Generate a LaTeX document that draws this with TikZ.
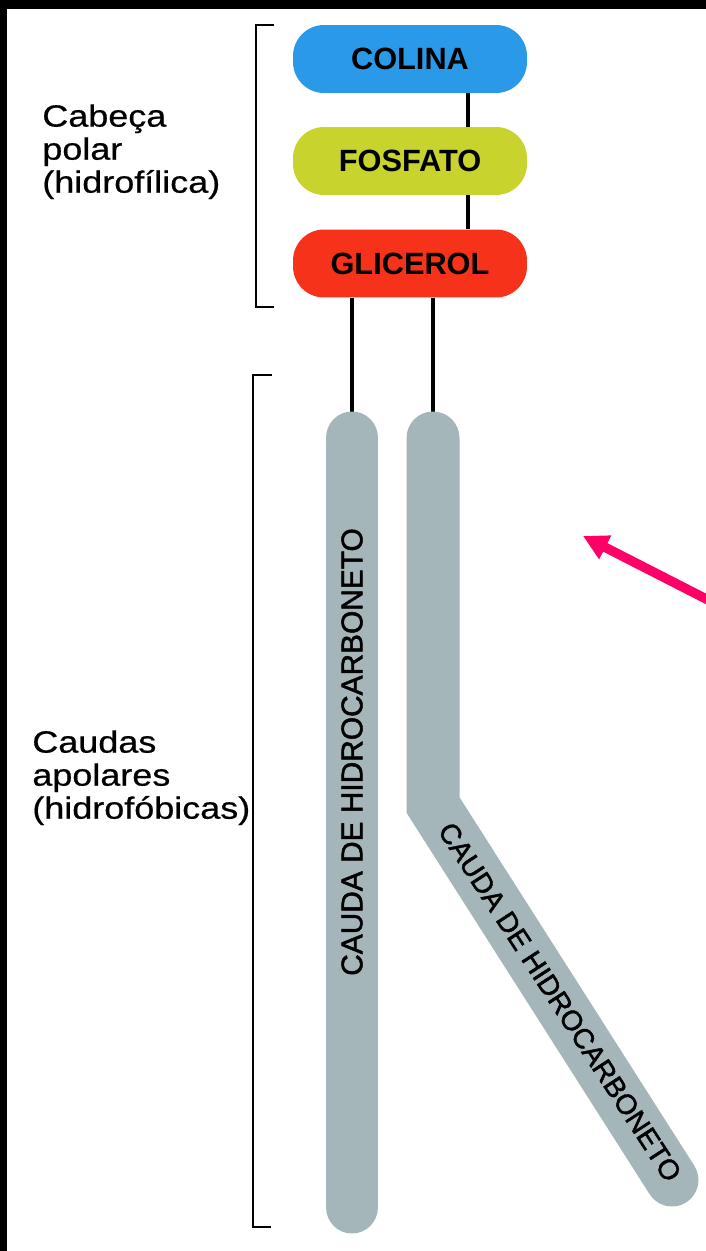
\documentclass[tikz,border=0pt]{standalone}
\usepackage{fontspec}
\setmainfont{Liberation Sans}
\newfontfamily\widesans[FakeStretch=1.17,FakeBold=0.6]{Liberation Sans}
\newfontfamily\tailsans[FakeBold=1.6]{Liberation Sans}
\usetikzlibrary{arrows.meta}
\definecolor{colblue}{RGB}{42,154,232}
\definecolor{fosyellow}{RGB}{200,211,46}
\definecolor{glired}{RGB}{246,50,26}
\definecolor{tailgray}{RGB}{164,182,186}
\definecolor{arrowpink}{RGB}{255,0,102}
\begin{document}
\begin{tikzpicture}[x=0.02cm,y=-0.02cm,
  head/.style={rounded corners=0.62cm,minimum width=4.68cm,minimum height=1.36cm,
    inner sep=0pt,font=\fontsize{17.5}{20}\selectfont\bfseries},
  link/.style={line width=2.4pt},
  tail/.style={line width=1.06cm,draw=tailgray,line cap=round},
  tailtext/.style={inner sep=0pt,font=\tailsans\fontsize{#1}{20}\selectfont},
  brace/.style={line width=1.5pt},
  side/.style={anchor=north west,align=left,inner sep=0pt,
    font=\widesans\fontsize{17.5}{18.8}\selectfont}]
  \fill[white] (0,0) rectangle (706,1251);
  \fill[black] (0,0) rectangle (706,9);
  \fill[black] (0,0) rectangle (7,1251);
  \useasboundingbox (0,0) rectangle (706,1251);
  % polar head
  \node[head,fill=colblue] (colina) at (410,59) {COLINA};
  \node[head,fill=fosyellow] (fosfato) at (410,161) {FOSFATO};
  \node[head,fill=glired] (glicerol) at (410,263.5) {GLICEROL};
  \draw[link] ([xshift=1.16cm]colina.south) -- ([xshift=1.16cm]fosfato.north);
  \draw[link] ([xshift=1.16cm]fosfato.south) -- ([xshift=1.16cm]glicerol.north);
  % tails
  \coordinate (t1tip) at (352,412);
  \coordinate (t1top) at (352,438);
  \coordinate (t1end) at (352,1207);
  \coordinate (t2tip) at (433,412);
  \coordinate (t2top) at (433,438);
  \coordinate (t2bend) at (433,805);
  \coordinate (t2end) at (672,1180);
  \draw[link] (glicerol.south -| t1tip) -- (t1tip);
  \draw[link] (glicerol.south -| t2tip) -- (t2tip);
  \draw[tail] (t1top) -- (t1end);
  \draw[tail] (t2top) -- (t2bend) -- (t2end);
  \node[tailtext=17,rotate=90] (cauda1) at (352,752) {CAUDA DE HIDROCARBONETO};
  \node[tailtext=16,rotate=-57] (cauda2) at (560,1002) {CAUDA DE HIDROCARBONETO};
  % brackets and labels
  \draw[brace] (274,25) -| (256,307) -- (274,307);
  \draw[brace] (272,375) -| (253,1227) -- (271,1227);
  \node[side] (cabeca) at (42,104) {Cabeça\\polar\\(hidrofílica)};
  \node[side] (caudas) at (32,730) {Caudas\\apolares\\(hidrofóbicas)};
  % pointer
  \coordinate (ptail) at (716,604);
  \coordinate (ptip) at (583,536);
  \draw[arrowpink,line width=0.19cm,-{Triangle[length=0.5cm,width=0.5cm]}] (ptail) -- (ptip);
\end{tikzpicture}
\end{document}
